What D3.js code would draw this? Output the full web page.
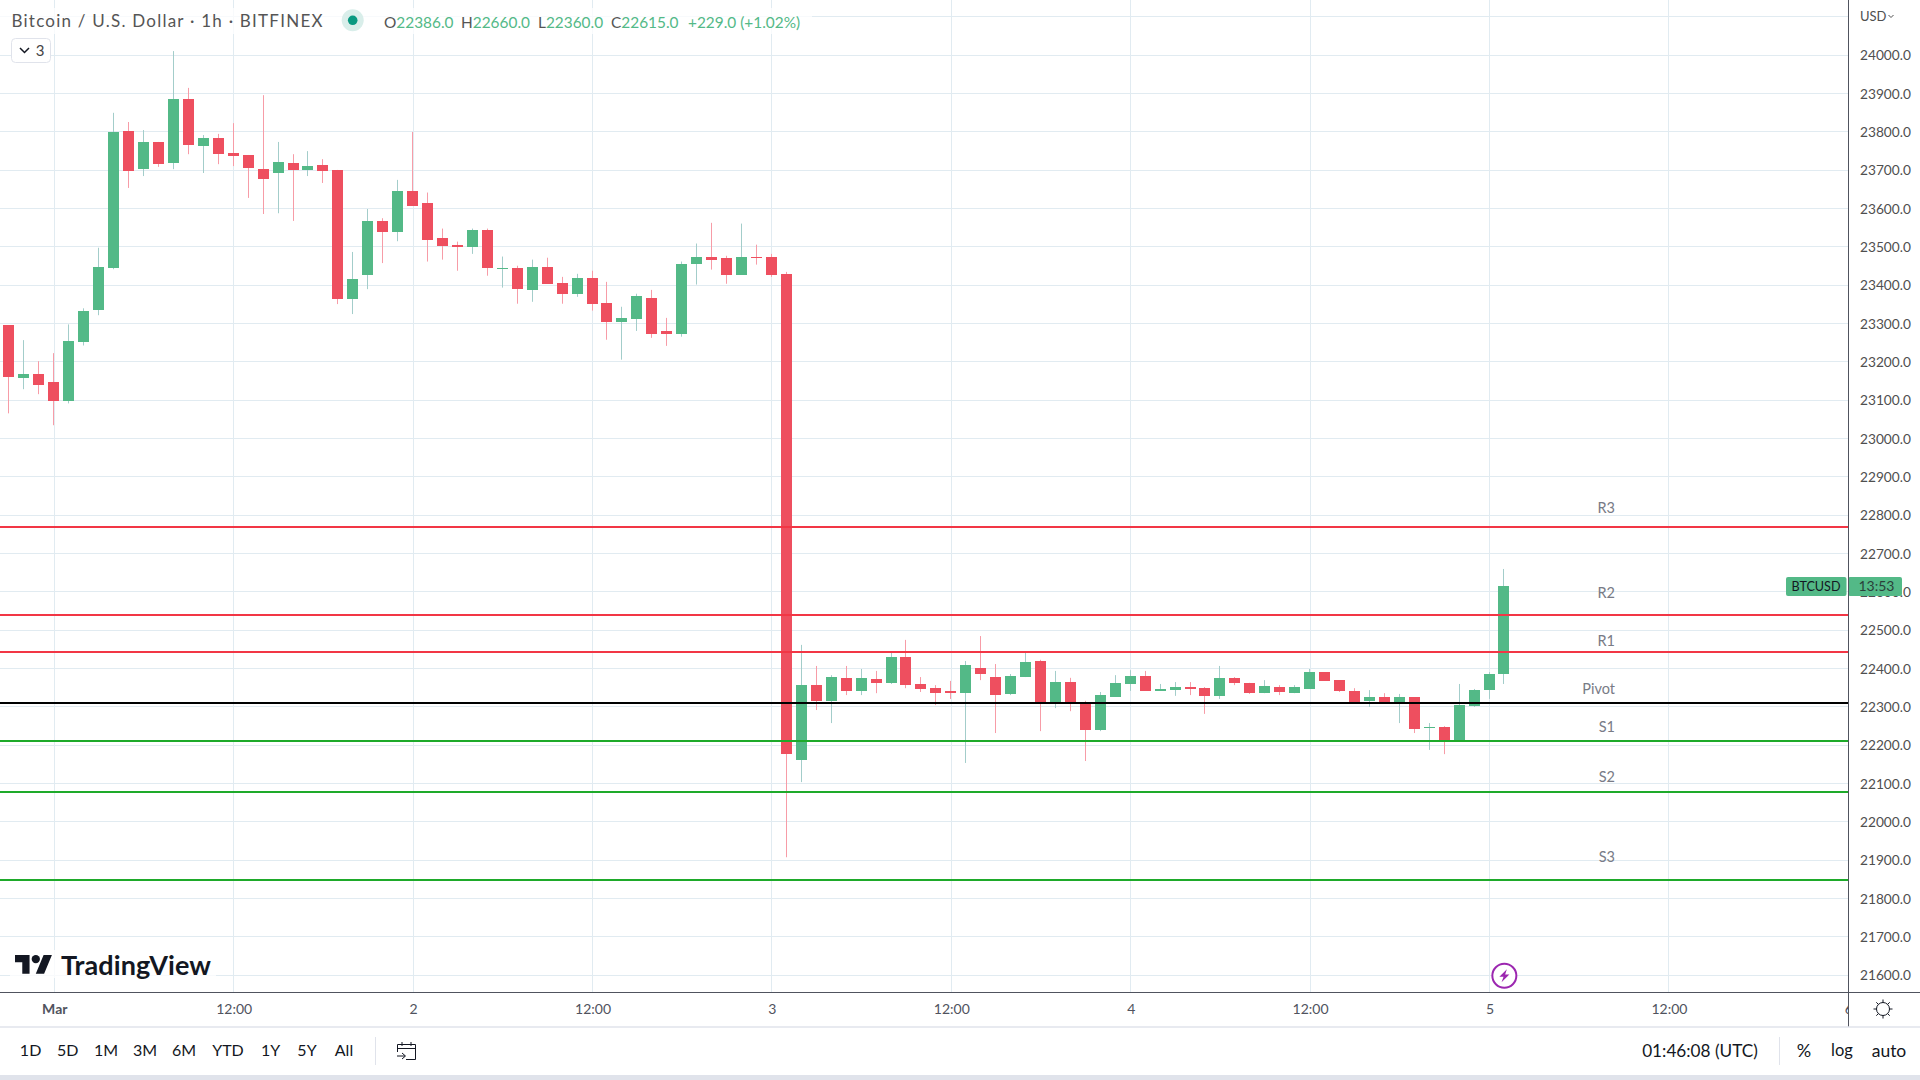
<!DOCTYPE html>
<html>
<head>
<meta charset="utf-8">
<title>BTCUSD</title>
<script src="https://cdn.jsdelivr.net/npm/d3@7"></script>
<style>
html, body { margin: 0; padding: 0; background: #fff; overflow: hidden; }
text { font-family: "Lato", "Open Sans", sans-serif; }
</style>
</head>
<body>
<script>
// hourly bars, first one is 2023-02-28 21:00 UTC
const firstBar = Date.UTC(2023, 1, 28, 21);
const candleOpen = [23296,23157,23168,23147,23097,23251,23335,23445,23803,23703,23774,23719,23886,23763,23784,23745,23740,23703,23693,23719,23701,23714,23701,23364,23427,23568,23539,23647,23616,23524,23506,23501,23545,23443,23446,23388,23449,23407,23378,23420,23355,23305,23313,23368,23282,23274,23456,23475,23472,23428,23475,23475,23430,22162,22357,22316,22376,22342,22373,22363,22430,22360,22349,22342,22336,22402,22378,22334,22378,22420,22310,22365,22312,22240,22326,22360,22381,22342,22344,22352,22349,22329,22376,22363,22336,22352,22336,22347,22391,22370,22342,22316,22326,22310,22326,22244,22247,22214,22302,22344,22386];
const candleHigh = [23296,23257,23202,23223,23298,23340,23498,23850,23826,23805,23774,24011,23915,23792,23795,23823,23740,23896,23774,23742,23750,23729,23701,23487,23599,23575,23675,23800,23642,23548,23514,23548,23548,23475,23451,23467,23472,23422,23430,23438,23409,23344,23378,23388,23315,23462,23509,23563,23477,23561,23506,23482,23435,22462,22407,22383,22407,22399,22394,22444,22475,22378,22357,22368,22420,22485,22412,22386,22444,22423,22394,22376,22316,22339,22383,22396,22394,22360,22365,22365,22352,22407,22378,22363,22370,22357,22357,22399,22391,22370,22349,22344,22336,22334,22326,22258,22250,22360,22347,22391,22660];
const candleLow = [23066,23129,23116,23035,23092,23243,23322,23442,23654,23685,23709,23703,23742,23693,23716,23711,23628,23586,23588,23568,23685,23667,23351,23325,23390,23458,23515,23608,23462,23467,23438,23482,23425,23394,23352,23357,23404,23352,23370,23334,23258,23206,23281,23263,23242,23266,23402,23441,23404,23428,23454,23422,21908,22104,22292,22258,22331,22331,22336,22360,22349,22339,22305,22321,22154,22370,22232,22331,22378,22237,22297,22289,22159,22237,22326,22342,22342,22342,22329,22331,22282,22321,22357,22334,22336,22331,22336,22347,22368,22339,22310,22300,22313,22258,22232,22188,22177,22214,22300,22321,22360];
const candleClose = [23161,23168,23139,23097,23254,23332,23447,23800,23698,23774,23716,23886,23766,23784,23742,23737,23706,23677,23722,23701,23711,23698,23364,23416,23568,23539,23646,23608,23519,23503,23501,23545,23446,23446,23391,23449,23404,23378,23420,23352,23305,23315,23373,23274,23274,23456,23475,23467,23428,23475,23472,23428,22177,22357,22316,22378,22342,22376,22363,22430,22357,22347,22336,22336,22410,22386,22331,22381,22417,22310,22365,22310,22240,22331,22363,22381,22342,22347,22352,22347,22329,22376,22363,22336,22355,22339,22352,22391,22368,22342,22310,22326,22313,22326,22242,22247,22214,22305,22344,22386,22615];

const pivotNames = ["R3", "R2", "R1", "Pivot", "S1", "S2", "S3"];
const pivotLevels = [22769, 22540, 22443, 22310, 22211, 22078, 21849];
const pivotLabelPrices = [22819, 22598, 22473, 22347, 22248, 22118, 21909];
const pivotColors = ["#f23645", "#f23645", "#f23645", "#000000", "#1eaa2a", "#1eaa2a", "#1eaa2a"];

const priceTicks = [24000,23900,23800,23700,23600,23500,23400,23300,23200,23100,23000,22900,22800,22700,22600,22500,22400,22300,22200,22100,22000,21900,21800,21700,21600];
const gridPrices = [24100].concat(priceTicks);
const timeTicks = [0, 12, 24, 36, 48, 60, 72, 84, 96, 108, 120].map(h => Date.UTC(2023, 2, 1, h));
const timeLabels = ["Mar", "12:00", "2", "12:00", "3", "12:00", "4", "12:00", "5", "12:00", "6"];

const legendNames = ["O", "H", "L", "C"];
const legendValues = ["22386.0", "22660.0", "22360.0", "22615.0"];
const legendChange = "+229.0 (+1.02%)";
const rangeButtons = ["1D", "5D", "1M", "3M", "6M", "YTD", "1Y", "5Y", "All"];

const width = 1920, height = 1080;
const axisX = 1848, axisY = 992, footY = 1027, bandY = 1075;
const upColor = "#53b987", downColor = "#ee4f5f", upWick = "#a3cdca", downWick = "#f79ca7";
const gridColor = "#e1ebf1", lineColor = "#50535e", textColor = "#50535e", darkColor = "#131722";

const x = d3.scaleUtc()
    .domain([Date.UTC(2023, 2, 1), Date.UTC(2023, 2, 6)])
    .range([54.3, 54.3 + 179.4 * 10]);
const y = d3.scaleLinear()
    .domain([24000, 21600])
    .range([55.3, 975.3]);

const bars = candleOpen.map((open, i) => ({
    time: firstBar + i * 3600e3,
    open: open,
    high: candleHigh[i],
    low: candleLow[i],
    close: candleClose[i]
}));

const svg = d3.select("body").append("svg")
    .attr("width", width)
    .attr("height", height)
    .style("display", "block");

const defs = svg.append("defs");
defs.append("clipPath").attr("id", "plot")
    .append("rect").attr("width", axisX).attr("height", axisY);
// clip rect is in the translated axis group's own coordinates
defs.append("clipPath").attr("id", "timeclip")
    .append("rect").attr("width", axisX).attr("height", footY - axisY);

svg.append("rect").attr("width", width).attr("height", height).attr("fill", "#fff");

const plot = svg.append("g").attr("clip-path", "url(#plot)");

// grid
plot.append("g").selectAll("line")
    .data(gridPrices)
    .join("line")
    .attr("x1", 0)
    .attr("x2", axisX)
    .attr("y1", d => Math.floor(y(d)) + 0.5)
    .attr("y2", d => Math.floor(y(d)) + 0.5)
    .attr("stroke", gridColor);
plot.append("g").selectAll("line")
    .data(timeTicks)
    .join("line")
    .attr("x1", d => Math.floor(x(d)) + 0.5)
    .attr("x2", d => Math.floor(x(d)) + 0.5)
    .attr("y1", 0)
    .attr("y2", axisY)
    .attr("stroke", gridColor);

// candles
plot.append("g").selectAll("rect")
    .data(bars)
    .join("rect")
    .attr("x", d => Math.round(x(d.time)) - 1)
    .attr("width", 1)
    .attr("y", d => y(d.high))
    .attr("height", d => y(d.low) - y(d.high))
    .attr("fill", d => d.close >= d.open ? upWick : downWick);
plot.append("g").selectAll("rect")
    .data(bars)
    .join("rect")
    .attr("x", d => Math.round(x(d.time)) - 6)
    .attr("width", 11)
    .attr("y", d => Math.round(y(Math.max(d.open, d.close))))
    .attr("height", d => Math.max(1, Math.round(y(Math.min(d.open, d.close))) - Math.round(y(Math.max(d.open, d.close)))))
    .attr("fill", d => d.close >= d.open ? upColor : downColor);

// pivot levels go over the candles
plot.append("g").selectAll("line")
    .data(pivotLevels)
    .join("line")
    .attr("x1", 0)
    .attr("x2", axisX)
    .attr("y1", d => Math.round(y(d)))
    .attr("y2", d => Math.round(y(d)))
    .attr("stroke", (d, i) => pivotColors[i])
    .attr("stroke-width", 2);
plot.append("g").selectAll("text")
    .data(pivotNames)
    .join("text")
    .attr("x", 1615)
    .attr("y", (d, i) => y(pivotLabelPrices[i]))
    .attr("dy", "0.35em")
    .attr("text-anchor", "end")
    .attr("font-size", 14.5)
    .attr("fill", "#787b86")
    .text(d => d);

// legend veil, title and values
plot.append("rect").attr("x", 0).attr("y", 8).attr("width", 812).attr("height", 26).attr("fill", "#fff").attr("opacity", 0.75);
plot.append("rect").attr("x", 10).attr("y", 950).attr("width", 206).attr("height", 28).attr("fill", "#fff").attr("opacity", 0.75);

svg.append("text")
    .attr("x", 11.5)
    .attr("y", 21)
    .attr("dy", "0.35em")
    .attr("font-size", 17)
    .attr("textLength", 311)
    .attr("fill", "#555")
    .text("Bitcoin / U.S. Dollar \u00b7 1h \u00b7 BITFINEX");

svg.append("circle").attr("cx", 352.7).attr("cy", 20.3).attr("r", 11).attr("fill", "#d9eeea");
svg.append("circle").attr("cx", 352.7).attr("cy", 20.3).attr("r", 4.8).attr("fill", "#0a9981");

const legendX = [384, 461, 538, 611];
const legend = svg.append("g").attr("font-size", 15.4);
legendNames.forEach((name, i) => {
    const t = legend.append("text").attr("x", legendX[i]).attr("y", 22.5).attr("dy", "0.35em");
    t.append("tspan").attr("fill", "#555").text(name);
    t.append("tspan").attr("fill", upColor).text(legendValues[i]);
});
legend.append("text")
    .attr("x", 688)
    .attr("y", 22.5)
    .attr("dy", "0.35em")
    .attr("fill", upColor)
    .text(legendChange);

// collapse button
svg.append("rect")
    .attr("x", 11.5).attr("y", 38.5).attr("width", 39).attr("height", 24).attr("rx", 4)
    .attr("fill", "#fff").attr("stroke", "#e0e3eb");
svg.append("path")
    .attr("d", "M20 48 L24.5 52.5 L29 48")
    .attr("fill", "none").attr("stroke", darkColor).attr("stroke-width", 1.5);
svg.append("text")
    .attr("x", 40).attr("y", 50.5).attr("dy", "0.35em")
    .attr("text-anchor", "middle").attr("font-size", 15).attr("fill", "#444")
    .text("3");

// logo
const logo = svg.append("g").attr("transform", "translate(15,950.8) scale(1.04)").attr("fill", darkColor);
logo.append("path").attr("d", "M14 22H7V11H0V4h14v18zM28 22h-8l7.5-18h8L28 22z");
logo.append("circle").attr("cx", 20).attr("cy", 8).attr("r", 4);
svg.append("text")
    .attr("x", 61).attr("y", 974.5)
    .attr("font-size", 27).attr("font-weight", 700)
    .attr("textLength", 150)
    .attr("fill", darkColor)
    .text("TradingView");

// flash marker
const marker = svg.append("g").attr("transform", `translate(${x(Date.UTC(2023, 2, 5, 1)) - 0.1},975.7)`);
marker.append("circle").attr("r", 12).attr("fill", "#fff").attr("stroke", "#9c27b0").attr("stroke-width", 2);
marker.append("path").attr("d", "M2.5 -6.5 L-5 1 H-0.8 L-2.8 6.5 L5 -1.2 H0.8 Z").attr("fill", "#9c27b0");

// price axis
const priceAxis = svg.append("g")
    .attr("transform", `translate(${axisX},0)`)
    .call(d3.axisRight(y).tickValues(priceTicks).tickSize(0).tickPadding(12).tickFormat(d3.format(".1f")));
priceAxis.select(".domain").remove();
priceAxis.selectAll("text")
    .attr("font-family", null)
    .attr("font-size", 13.7)
    .attr("fill", "#4f4f4f");

// time axis
const timeAxis = svg.append("g")
    .attr("transform", `translate(0,${axisY})`)
    .attr("clip-path", "url(#timeclip)")
    .call(d3.axisBottom(x).tickValues(timeTicks).tickSize(0).tickPadding(12).tickFormat((d, i) => timeLabels[i]));
timeAxis.select(".domain").remove();
timeAxis.selectAll("text")
    .attr("font-family", null)
    .attr("font-size", 14)
    .attr("font-weight", (d, i) => i == 0 ? 700 : 400)
    .attr("fill", textColor);

// frame lines
svg.append("line").attr("x1", axisX + 0.5).attr("x2", axisX + 0.5).attr("y1", 0).attr("y2", footY).attr("stroke", lineColor);
svg.append("line").attr("x1", 0).attr("x2", width).attr("y1", axisY + 0.5).attr("y2", axisY + 0.5).attr("stroke", lineColor);
svg.append("line").attr("x1", 0).attr("x2", width).attr("y1", footY).attr("y2", footY).attr("stroke", "#e0e3eb").attr("stroke-width", 1.5);
svg.append("rect").attr("y", bandY).attr("width", width).attr("height", height - bandY).attr("fill", "#e0e3eb");

svg.append("text")
    .attr("x", 1860).attr("y", 16).attr("dy", "0.35em")
    .attr("font-size", 13).attr("fill", "#4f4f4f")
    .text("USD");
svg.append("path")
    .attr("d", "M1888.5 15 L1891 17.5 L1893.5 15")
    .attr("fill", "none").attr("stroke", "#4f4f4f");

// last price tag
svg.append("rect").attr("x", 1786).attr("y", 577).attr("width", 60.5).attr("height", 19).attr("rx", 2).attr("fill", upColor);
svg.append("rect").attr("x", 1848).attr("y", 577).attr("width", 54).attr("height", 19).attr("rx", 2).attr("fill", upColor);
svg.append("line").attr("x1", axisX + 0.5).attr("x2", axisX + 0.5).attr("y1", 577).attr("y2", 596).attr("stroke", lineColor);
svg.append("text")
    .attr("x", 1816).attr("y", 586.5).attr("dy", "0.35em")
    .attr("text-anchor", "middle").attr("font-size", 12.6).attr("fill", darkColor)
    .text("BTCUSD");
svg.append("text")
    .attr("x", 1876.5).attr("y", 586.5).attr("dy", "0.35em")
    .attr("text-anchor", "middle").attr("font-size", 14).attr("fill", "#2a3f3a")
    .text("13:53");

// settings icon
const gear = svg.append("g").attr("transform", "translate(1883,1009)").attr("stroke", darkColor).attr("fill", "none");
gear.append("circle").attr("r", 6.5);
gear.selectAll("line")
    .data(d3.range(8))
    .join("line")
    .attr("x1", d => 6.5 * Math.cos(d * Math.PI / 4))
    .attr("y1", d => 6.5 * Math.sin(d * Math.PI / 4))
    .attr("x2", d => 9.5 * Math.cos(d * Math.PI / 4))
    .attr("y2", d => 9.5 * Math.sin(d * Math.PI / 4));

// bottom toolbar
const buttonX = [30.6, 67.8, 106, 145, 184, 228, 270.6, 307, 344];
svg.append("g").selectAll("text")
    .data(rangeButtons)
    .join("text")
    .attr("x", (d, i) => buttonX[i])
    .attr("y", 1050.5)
    .attr("dy", "0.35em")
    .attr("text-anchor", "middle")
    .attr("font-size", 16)
    .attr("fill", darkColor)
    .text(d => d);
svg.append("line").attr("x1", 375.5).attr("x2", 375.5).attr("y1", 1037).attr("y2", 1065).attr("stroke", "#e0e3eb");
svg.append("path")
    .attr("d", "M397.5 1052 V1044.5 H415.5 V1059.5 H406 M397.5 1048.5 H415.5 M402 1042 V1046 M411 1042 V1046 M397 1056 H405 M402 1053 L405.5 1056 L402 1059")
    .attr("fill", "none")
    .attr("stroke", darkColor);

svg.append("text")
    .attr("x", 1700).attr("y", 1050.5).attr("dy", "0.35em")
    .attr("text-anchor", "middle").attr("font-size", 17.2).attr("fill", darkColor)
    .text("01:46:08 (UTC)");
svg.append("line").attr("x1", 1779.5).attr("x2", 1779.5).attr("y1", 1037).attr("y2", 1065).attr("stroke", "#e0e3eb");
const rightButtons = [["%", 1804, 18], ["log", 1842, 16.5], ["auto", 1889, 17.5]];
svg.append("g").selectAll("text")
    .data(rightButtons)
    .join("text")
    .attr("x", d => d[1])
    .attr("y", 1050.5)
    .attr("dy", "0.35em")
    .attr("text-anchor", "middle")
    .attr("font-size", d => d[2])
    .attr("fill", darkColor)
    .text(d => d[0]);
</script>
</body>
</html>
